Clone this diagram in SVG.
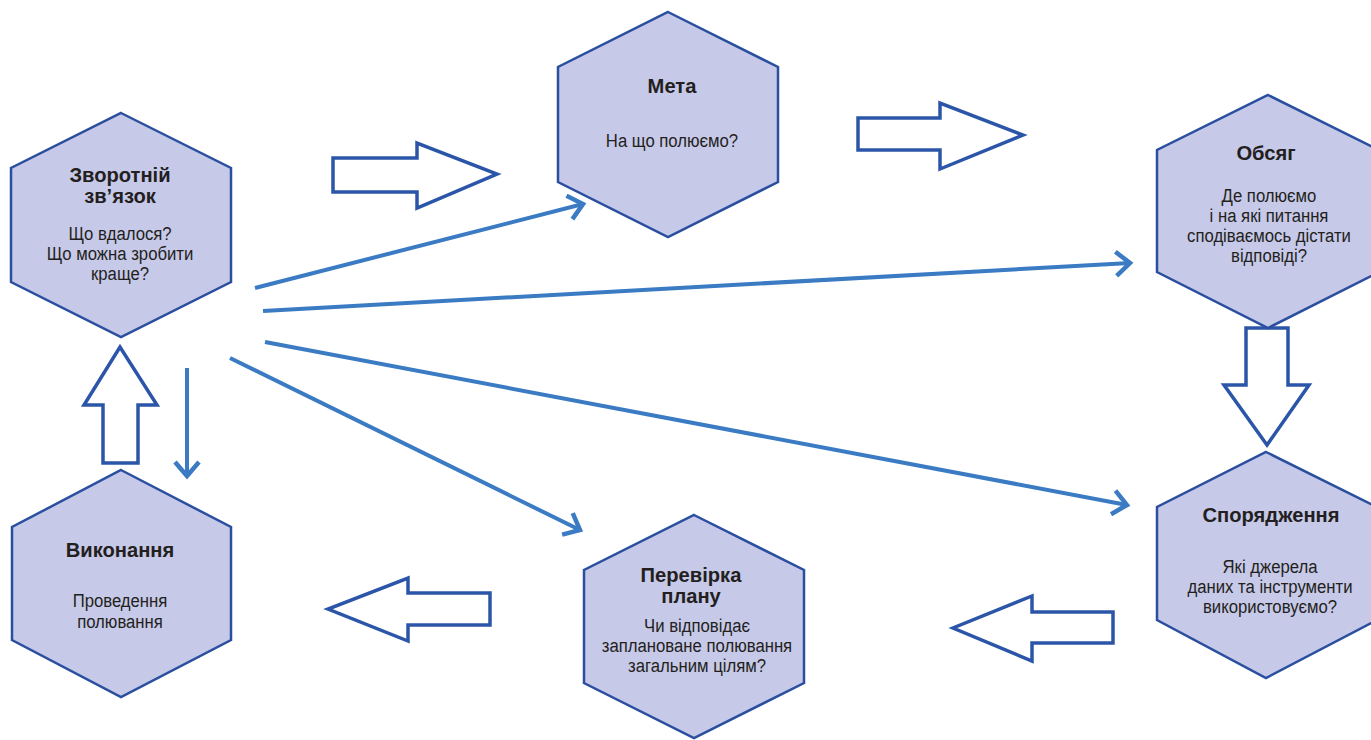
<svg xmlns="http://www.w3.org/2000/svg" width="1371" height="740" viewBox="0 0 1371 740">
<style>
.hex{fill:#c7c9e9;stroke:#2b4f9f;stroke-width:2.5}
.blk{fill:#ffffff;stroke:#2b55a8;stroke-width:3.5;stroke-linejoin:miter}
.ln{stroke:#3a7bc3;stroke-width:4;fill:none}
.t{font-family:"Liberation Sans",Arial,sans-serif;font-weight:bold;font-size:21px;fill:#231f20;text-anchor:middle}
.b{font-family:"Liberation Sans",Arial,sans-serif;font-size:19px;fill:#231f20;text-anchor:middle}
</style>
<defs>
<marker id="ah" markerUnits="userSpaceOnUse" markerWidth="30" markerHeight="30" refX="20" refY="15" orient="auto" viewBox="0 0 30 30">
<path d="M6,3 L20,15 L6,27" fill="none" stroke="#3a7bc3" stroke-width="4.5"/>
</marker>
</defs>
<rect width="1371" height="740" fill="#ffffff"/>
<g id="connectors">
<path class="blk" d="M333,158 L417,158 L417,143 L497,174 L417,208 L417,192 L333,192 Z"/>
<path class="blk" d="M858,118 L940,118 L940,103 L1023,135 L940,169 L940,150 L858,150 Z"/>
<path class="blk" d="M1246,328 L1288,328 L1288,385 L1309,385 L1267,445 L1224,385 L1246,385 Z"/>
<path class="blk" d="M1113,612 L1032,612 L1032,596 L953,628 L1032,661 L1032,643 L1113,643 Z"/>
<path class="blk" d="M490,593 L408,593 L408,578 L328,609 L408,641 L408,625 L490,625 Z"/>
<path class="blk" d="M103,463 L103,405 L84,405 L120,347 L157,405 L138,405 L138,463 Z"/>
<line class="ln" x1="255" y1="288" x2="583" y2="204" marker-end="url(#ah)"/>
<line class="ln" x1="263" y1="311" x2="1130" y2="263" marker-end="url(#ah)"/>
<line class="ln" x1="265" y1="342" x2="1127" y2="505" marker-end="url(#ah)"/>
<line class="ln" x1="230" y1="358" x2="580" y2="530" marker-end="url(#ah)"/>
<line class="ln" x1="187" y1="368" x2="187" y2="476" marker-end="url(#ah)"/>
</g>
<g id="node-feedback">
<polygon class="hex" points="121,113 231,168 231,282 121,337 11,282 11,168"/>
<g transform="translate(120,0) scale(0.96,1)">
<text class="t" x="0" y="182">Зворотній</text>
<text class="t" x="0" y="203">зв’язок</text>
</g>
<g transform="translate(120,0) scale(0.88,1)">
<text class="b" x="0" y="240">Що вдалося?</text>
<text class="b" x="0" y="260">Що можна зробити</text>
<text class="b" x="0" y="280">краще?</text>
</g>
</g>
<g id="node-goal">
<polygon class="hex" points="668,12 778,67 778,182 668,237 558,182 558,67"/>
<g transform="translate(672,0) scale(0.96,1)">
<text class="t" x="0" y="93">Мета</text>
</g>
<g transform="translate(672,0) scale(0.88,1)">
<text class="b" x="0" y="147">На що полюємо?</text>
</g>
</g>
<g id="node-scope">
<polygon class="hex" points="1268,95 1379,150 1379,272 1268,328 1157,272 1157,150"/>
<g transform="translate(1266,0) scale(0.96,1)">
<text class="t" x="0" y="160">Обсяг</text>
</g>
<g transform="translate(1269,0) scale(0.88,1)">
<text class="b" x="0" y="202">Де полюємо</text>
<text class="b" x="0" y="222">і на які питання</text>
<text class="b" x="0" y="242">сподіваємось дістати</text>
<text class="b" x="0" y="262">відповіді?</text>
</g>
</g>
<g id="node-equipment">
<polygon class="hex" points="1266,452 1377,507 1377,620 1266,678 1157,620 1157,507"/>
<g transform="translate(1271,0) scale(0.96,1)">
<text class="t" x="0" y="522">Спорядження</text>
</g>
<g transform="translate(1270,0) scale(0.88,1)">
<text class="b" x="0" y="573">Які джерела</text>
<text class="b" x="0" y="593">даних та інструменти</text>
<text class="b" x="0" y="613">використовуємо?</text>
</g>
</g>
<g id="node-check">
<polygon class="hex" points="694,515 804,570 804,683 694,738 584,683 584,570"/>
<g transform="translate(691,0) scale(0.96,1)">
<text class="t" x="0" y="582">Перевірка</text>
<text class="t" x="0" y="603">плану</text>
</g>
<g transform="translate(697,0) scale(0.88,1)">
<text class="b" x="0" y="632">Чи відповідає</text>
<text class="b" x="0" y="652">заплановане полювання</text>
<text class="b" x="0" y="672">загальним цілям?</text>
</g>
</g>
<g id="node-execution">
<polygon class="hex" points="121,470 231,527 231,640 121,697 12,640 12,527"/>
<g transform="translate(120,0) scale(0.96,1)">
<text class="t" x="0" y="557">Виконання</text>
</g>
<g transform="translate(120,0) scale(0.88,1)">
<text class="b" x="0" y="607">Проведення</text>
<text class="b" x="0" y="628">полювання</text>
</g>
</g>
</svg>
